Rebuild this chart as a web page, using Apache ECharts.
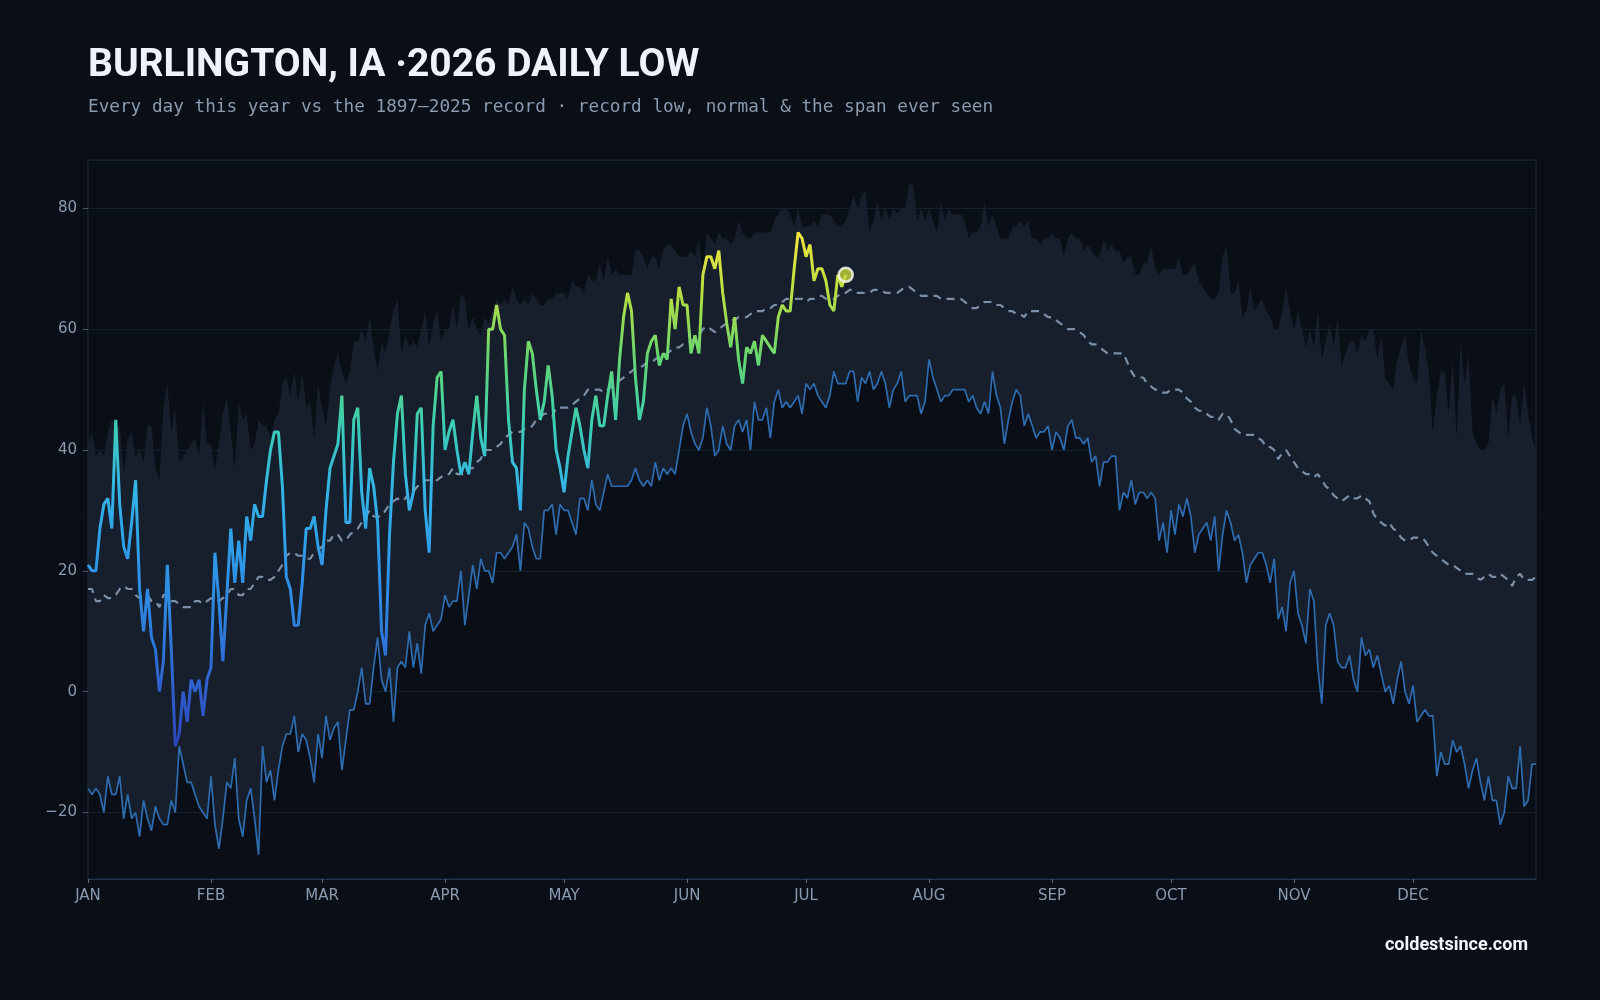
<!DOCTYPE html>
<html>
<head>
<meta charset="utf-8">
<script src="https://cdn.jsdelivr.net/npm/echarts@6/dist/echarts.min.js"></script>
<style>
  html, body { margin: 0; padding: 0; background: #0a0e16; }
  #main { width: 1600px; height: 1000px; }
</style>
</head>
<body>
<div id="main"></div>
<script>
const MONTHS = ["JAN", "FEB", "MAR", "APR", "MAY", "JUN", "JUL", "AUG", "SEP", "OCT", "NOV", "DEC"];
const MONTH_START = [0, 31, 59, 90, 120, 151, 181, 212, 243, 273, 304, 334];

// 2026 daily lows so far (day 0 = Jan 1)
const thisYear = [
  21, 20, 20, 27, 31, 32, 27, 45, 31, 24, 22, 28, 35, 17, 10, 17, 9, 7, 0, 5,
  21, 7, -9, -7, 0, -5, 2, 0, 2, -4, 2, 4, 23, 15, 5, 16, 27, 18, 25, 18,
  29, 25, 31, 29, 29, 35, 40, 43, 43, 34, 19, 17, 11, 11, 18, 27, 27, 29, 24, 21,
  30, 37, 39, 41, 49, 28, 28, 45, 47, 33, 27, 37, 34, 28, 10, 6, 26, 38, 46, 49,
  36, 30, 33, 46, 47, 30, 23, 44, 52, 53, 40, 43, 45, 40, 36, 38, 36, 43, 49, 42,
  39, 60, 60, 64, 60, 59, 45, 38, 37, 30, 50, 58, 56, 50, 45, 48, 54, 49, 40, 37,
  33, 39, 43, 47, 44, 40, 37, 45, 49, 44, 44, 49, 53, 45, 55, 62, 66, 63, 52, 45,
  48, 56, 58, 59, 54, 56, 55, 65, 60, 67, 64, 64, 56, 59, 56, 69, 72, 72, 70, 73,
  66, 61, 57, 62, 55, 51, 57, 56, 58, 54, 59, 58, 57, 56, 62, 64, 63, 63, 70, 76,
  75, 72, 74, 68, 70, 70, 68, 64, 63, 69, 67, 69
];

// record low of each day, 1897-2025
const recordLow = [
  -16, -17, -16, -17, -20, -14, -17, -17, -14, -21, -17, -21, -20, -24, -18, -21, -23, -19, -21, -22,
  -22, -18, -20, -9, -12, -15, -15, -17, -19, -20, -21, -14, -22, -26, -21, -15, -16, -11, -21, -24,
  -18, -16, -21, -27, -9, -15, -13, -18, -13, -9, -7, -7, -4, -10, -7, -8, -11, -15, -7, -11,
  -4, -8, -6, -5, -13, -8, -3, -3, 0, 4, -2, -2, 4, 9, 2, 0, 4, -5, 4, 5,
  4, 10, 4, 8, 3, 11, 13, 10, 11, 12, 16, 14, 15, 15, 20, 11, 16, 21, 17, 22,
  20, 20, 18, 23, 23, 22, 23, 24, 26, 20, 28, 27, 24, 22, 22, 30, 30, 31, 26, 31,
  30, 30, 28, 26, 32, 32, 30, 35, 31, 30, 33, 36, 34, 34, 34, 34, 34, 35, 37, 35,
  34, 35, 34, 38, 35, 37, 36, 37, 36, 40, 44, 46, 43, 41, 40, 42, 47, 44, 39, 40,
  44, 41, 40, 44, 45, 43, 45, 40, 48, 45, 45, 47, 42, 48, 50, 47, 48, 47, 48, 49,
  46, 51, 50, 51, 49, 48, 47, 49, 53, 51, 51, 51, 53, 53, 48, 52, 51, 53, 50, 51,
  53, 51, 47, 50, 51, 53, 48, 49, 49, 49, 46, 48, 55, 52, 50, 48, 49, 49, 50, 50,
  50, 50, 48, 49, 47, 46, 48, 46, 53, 49, 47, 41, 45, 48, 50, 49, 44, 46, 44, 42,
  43, 43, 44, 40, 43, 42, 40, 44, 45, 42, 42, 41, 42, 38, 39, 34, 38, 38, 39, 39,
  30, 33, 32, 35, 31, 33, 33, 32, 33, 32, 25, 28, 23, 30, 26, 31, 29, 32, 29, 23,
  26, 27, 28, 25, 29, 20, 26, 30, 28, 25, 26, 23, 18, 21, 22, 23, 23, 21, 18, 22,
  12, 14, 10, 18, 20, 13, 11, 8, 17, 15, 4, -2, 11, 13, 11, 5, 4, 4, 6, 2,
  0, 9, 6, 7, 4, 6, 3, 0, 1, -2, 2, 5, 0, -2, 1, -5, -4, -3, -4, -4,
  -14, -10, -12, -12, -8, -10, -9, -12, -16, -13, -11, -15, -18, -14, -18, -18, -22, -20, -14, -16,
  -16, -9, -19, -18, -12, -12
];

// highest low ever seen on each day
const recordHigh = [
  41, 43, 39, 40, 39, 43, 45, 44, 44, 36, 42, 43, 39, 40, 38, 44, 44, 37, 35, 47,
  51, 43, 47, 38, 39, 40, 41, 42, 39, 48, 41, 41, 37, 41, 46, 49, 43, 37, 48, 45,
  46, 40, 41, 45, 44, 44, 42, 45, 46, 51, 52, 49, 53, 48, 53, 47, 48, 42, 51, 47,
  44, 50, 54, 56, 53, 51, 53, 58, 58, 60, 58, 62, 57, 53, 58, 56, 60, 63, 65, 56,
  59, 57, 58, 57, 60, 63, 57, 61, 63, 58, 60, 60, 64, 60, 66, 65, 60, 62, 60, 59,
  62, 61, 63, 65, 64, 65, 64, 67, 65, 64, 65, 64, 66, 65, 64, 64, 65, 65, 66, 66,
  66, 65, 68, 67, 67, 66, 69, 68, 68, 71, 68, 72, 69, 70, 69, 69, 69, 69, 73, 73,
  72, 70, 72, 72, 70, 73, 74, 74, 73, 72, 72, 72, 73, 72, 75, 69, 76, 75, 74, 76,
  75, 75, 74, 75, 78, 76, 75, 75, 76, 76, 76, 76, 76, 78, 79, 80, 80, 79, 77, 80,
  77, 77, 77, 78, 77, 79, 79, 79, 78, 77, 77, 78, 80, 82, 80, 82, 83, 76, 78, 81,
  78, 80, 78, 80, 79, 80, 80, 84, 84, 78, 80, 78, 80, 78, 76, 81, 78, 80, 79, 79,
  79, 78, 75, 76, 76, 77, 81, 77, 79, 77, 75, 75, 75, 77, 77, 78, 77, 78, 75, 75,
  74, 75, 75, 76, 75, 75, 72, 75, 76, 75, 75, 73, 74, 73, 72, 72, 75, 73, 74, 73,
  73, 71, 72, 72, 69, 69, 71, 71, 74, 70, 69, 70, 70, 70, 70, 72, 69, 69, 70, 71,
  68, 67, 66, 65, 65, 66, 72, 74, 66, 66, 68, 62, 63, 67, 63, 64, 65, 63, 62, 60,
  60, 63, 67, 63, 60, 63, 60, 57, 60, 57, 63, 55, 58, 61, 57, 62, 54, 56, 58, 58,
  56, 59, 58, 60, 60, 55, 59, 52, 51, 50, 55, 57, 59, 54, 52, 51, 60, 57, 53, 43,
  49, 53, 53, 46, 55, 42, 58, 51, 56, 43, 41, 40, 40, 41, 49, 46, 50, 51, 42, 49,
  49, 44, 51, 46, 42, 40
];

// normal daily low
const normal = [
  17, 17, 15, 15, 16, 15.5, 15.5, 16, 17, 17.5, 17, 17, 16, 15.5, 16, 16, 15, 15, 14, 16,
  16, 15, 15, 14.5, 14, 14, 14, 15, 15, 14.5, 15, 15.5, 15, 15, 15.5, 16, 17, 17, 16, 16,
  17, 17, 18, 19, 19, 18.5, 18.5, 19, 20, 21, 22.5, 23, 23, 22.5, 22.5, 22, 22, 23, 23.5, 24,
  25, 25, 26, 26, 25, 25, 26, 26.5, 27, 28, 29, 30, 29, 29, 29, 30, 31, 31.5, 32, 31.5,
  32, 33, 33, 34, 34, 35, 35, 35, 35, 35.5, 36, 36, 37, 36, 36, 36, 37, 37, 38, 38.5,
  40, 40, 40, 40.5, 41, 42, 42.5, 43, 43, 43, 43.5, 43.5, 44, 45, 45.5, 46, 46, 45.5, 47, 47,
  47, 47, 47.5, 48, 48.5, 49, 50, 50, 50, 50, 49.5, 50, 50.5, 51, 51.5, 52, 52.5, 53, 53.5, 53.5,
  54, 54.5, 54.5, 55, 55.5, 55.5, 56, 56.5, 57, 57, 57.5, 57.5, 58, 58.5, 59, 60, 60.5, 60, 59.5, 60,
  60.5, 61, 61.5, 61.5, 62, 62, 62, 62.5, 63, 63, 63, 63.5, 63.5, 64, 64, 64.5, 65, 65, 65, 65,
  65, 64.5, 65, 65, 65.5, 65.5, 65, 65, 65, 65.5, 66, 66, 66.5, 66.5, 66, 66, 66, 66, 66.5, 66.5,
  66.5, 66, 66, 66, 66, 66.5, 67, 67, 66.5, 66, 65.5, 65.5, 65.5, 65.5, 65.5, 65, 65, 65, 65, 65,
  65, 64.5, 64, 63.5, 63.5, 64, 64.5, 64.5, 64.5, 64, 64, 63.5, 63, 63, 62.5, 62.5, 62, 63, 63, 63,
  63, 62.5, 62, 62, 61.5, 61, 60.5, 60, 60, 60, 59.5, 59, 58, 57.5, 57.5, 57, 56.5, 56, 56, 56,
  56, 56, 54.5, 53, 52, 52, 52, 51, 50.5, 50, 50, 49.5, 49.5, 50, 50, 50, 49.5, 48.5, 48, 47,
  46.5, 46.5, 46, 45.5, 45.5, 45, 46, 46, 45, 43.5, 43, 42.5, 42.5, 42.5, 42.5, 42, 41.5, 40.5, 40.5, 40,
  38.5, 39.5, 40, 39, 38, 37, 36.5, 36, 36, 35.5, 36, 35, 34, 33.5, 32.5, 32, 31.5, 32, 32.5, 32,
  32, 32.5, 32, 31.5, 29.5, 28.5, 28, 27.5, 28, 27, 26.5, 25.5, 25, 25, 25.5, 25.5, 25.5, 25, 24, 23,
  22.5, 22, 21.5, 21, 21, 20.5, 20, 19.5, 19.5, 19.5, 19, 18.5, 19, 19.5, 19, 19, 19.5, 19, 18.5, 17.5,
  19, 19.5, 18.5, 18.5, 18.5, 19
];

const labelColor = "#8a9bb0";
const minus = (v) => (v < 0 ? "\u2212" + Math.abs(v) : String(v));

// one category per day; month names sit on the first day of each month
const days = recordLow.map((_, i) => {
  const m = MONTH_START.indexOf(i);
  return m >= 0 ? MONTHS[m] : String(i);
});
const isMonthStart = (idx) => MONTH_START.indexOf(idx) >= 0;

const span = recordHigh.map((v, i) => v - recordLow[i]);
const lastIdx = thisYear.length - 1;

const chart = echarts.init(document.getElementById("main"));
chart.setOption({
  animation: false,
  backgroundColor: "#0a0e16",
  title: [
    {
      text: "BURLINGTON, IA \u00b72026 DAILY LOW",
      left: 88,
      top: 47,
      padding: 0,
      textStyle: { color: "#eef3fa", fontFamily: "Roboto", fontWeight: "bold", fontSize: 39 }
    },
    {
      text: "Every day this year vs the 1897\u20132025 record \u00b7 record low, normal & the span ever seen",
      left: 88,
      top: 98,
      padding: 0,
      textStyle: { color: labelColor, fontFamily: "DejaVu Sans Mono", fontWeight: "normal", fontSize: 17.7 }
    },
    {
      text: "coldestsince.com",
      right: 72,
      top: 936,
      padding: 0,
      textStyle: { color: "#f2f5fa", fontFamily: "Roboto", fontWeight: "bold", fontSize: 18 }
    }
  ],
  grid: {
    left: 88,
    right: 64,
    top: 160,
    bottom: 121,
    show: true,
    borderColor: "#1d2a3a",
    borderWidth: 1,
    backgroundColor: "transparent"
  },
  xAxis: {
    type: "category",
    data: days,
    boundaryGap: false,
    splitLine: { show: false },
    axisLine: { show: true, onZero: false, lineStyle: { color: "#26364a", width: 1 } },
    axisTick: {
      show: true,
      interval: (idx) => isMonthStart(idx),
      length: 4,
      lineStyle: { color: "#5b6c80" }
    },
    axisLabel: {
      interval: (idx) => isMonthStart(idx),
      color: labelColor,
      fontFamily: "DejaVu Sans",
      fontSize: 15,
      margin: 10
    }
  },
  yAxis: {
    type: "value",
    min: -31,
    max: 88,
    axisLine: { show: false },
    axisTick: { show: true, length: 5, lineStyle: { color: "#4a5a6e" } },
    splitLine: { show: true, lineStyle: { color: "#16212e", width: 1 } },
    axisLabel: {
      showMinLabel: false,
      showMaxLabel: false,
      formatter: minus,
      color: labelColor,
      fontFamily: "DejaVu Sans",
      fontSize: 15,
      margin: 11
    }
  },
  visualMap: {
    show: false,
    type: "continuous",
    seriesIndex: 3,
    dimension: 1,
    min: -9,
    max: 76,
    inRange: {
      color: ["#2b45b8", "#2f62d0", "#2f82e0", "#2f9be8", "#34b4e6", "#3ccdb4", "#62d674", "#b4de44", "#f4e53e"]
    }
  },
  series: [
    {
      name: "Record low",
      type: "line",
      data: recordLow,
      stack: "span",
      stackStrategy: "all",
      showSymbol: false,
      symbol: "none",
      z: 4,
      lineStyle: { color: "#2e6cb0", width: 1.7 }
    },
    {
      name: "Span ever seen",
      type: "line",
      data: span,
      stack: "span",
      stackStrategy: "all",
      showSymbol: false,
      symbol: "none",
      z: 1,
      lineStyle: { width: 0, opacity: 0 },
      areaStyle: { color: "#161f2b", opacity: 1 }
    },
    {
      name: "Normal",
      type: "line",
      data: normal,
      showSymbol: false,
      symbol: "none",
      z: 3,
      lineStyle: { color: "#7b90a8", width: 2.2, type: [8, 6] }
    },
    {
      name: "2026",
      type: "line",
      data: thisYear,
      showSymbol: false,
      symbol: "none",
      z: 5,
      lineStyle: { width: 3 }
    },
    {
      name: "Latest",
      type: "scatter",
      data: [[lastIdx, thisYear[lastIdx]]],
      symbolSize: 14,
      z: 6,
      itemStyle: { color: "#c8d53c", borderColor: "#ffffff", borderWidth: 2.5 }
    }
  ]
});
</script>
</body>
</html>
